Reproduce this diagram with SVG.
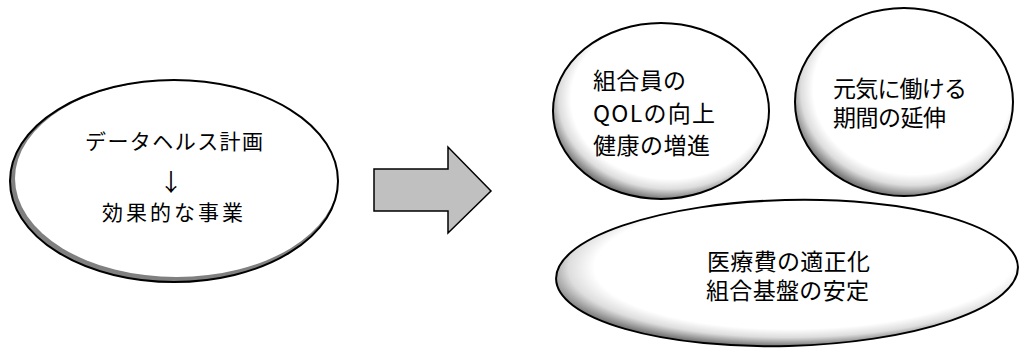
<svg xmlns="http://www.w3.org/2000/svg" width="1020" height="349" viewBox="0 0 1020 349">
  <style>
    .t { font-family: "Noto Sans CJK JP", "Noto Sans", sans-serif; fill: #000; }
    .edge { fill: none; stroke: #000; stroke-width: 2; }
  </style>
  <defs>
    <radialGradient id="soft" cx="0.54" cy="0.43" r="0.57">
      <stop offset="0" stop-color="#ffffff"/>
      <stop offset="0.8" stop-color="#ffffff"/>
      <stop offset="0.9" stop-color="#dddddd"/>
      <stop offset="1" stop-color="#7a7a7a"/>
    </radialGradient>
  </defs>
  <rect width="1020" height="349" fill="#ffffff"/>

  <g id="node-plan">
    <ellipse cx="174" cy="181" rx="164" ry="101" fill="#808080"/>
    <ellipse cx="176.5" cy="178.5" rx="161.5" ry="98.5" fill="#ffffff"/>
    <ellipse cx="174" cy="181" rx="164" ry="101" class="edge"/>
    <text class="t" x="85" y="149" font-size="21" textLength="178" lengthAdjust="spacing">データヘルス計画</text>
    <text x="171" y="191" font-size="24" text-anchor="middle" fill="#000" font-family="'Noto Sans CJK JP', sans-serif">↓</text>
    <text class="t" x="102" y="220" font-size="21" textLength="141" lengthAdjust="spacing">効果的な事業</text>
  </g>

  <g id="connectors">
    <polygon points="374,169 448,169 448,147 491,191 448,233 448,211 374,211" fill="#c0c0c0" stroke="#000" stroke-width="1.5"/>
  </g>

  <g id="node-qol">
    <ellipse cx="661" cy="111" rx="108" ry="88" class="edge" style="fill:url(#soft)"/>
    <text class="t" x="593" y="89" font-size="23" textLength="93" lengthAdjust="spacing">組合員の</text>
    <text class="t" x="593" y="122" font-size="23" textLength="122" lengthAdjust="spacing">QOLの向上</text>
    <text class="t" x="593" y="154" font-size="23" textLength="117" lengthAdjust="spacing">健康の増進</text>
  </g>

  <g id="node-work">
    <ellipse cx="904" cy="102" rx="109" ry="94" class="edge" style="fill:url(#soft)"/>
    <text class="t" x="833" y="97" font-size="23" textLength="134" lengthAdjust="spacing">元気に働ける</text>
    <text class="t" x="833" y="126" font-size="23" textLength="113" lengthAdjust="spacing">期間の延伸</text>
  </g>

  <g id="node-cost">
    <ellipse cx="787" cy="273" rx="231" ry="73" transform="rotate(-1.5 787 273)" class="edge" style="fill:url(#soft)"/>
    <text class="t" x="707" y="270" font-size="23" textLength="163" lengthAdjust="spacing">医療費の適正化</text>
    <text class="t" x="706" y="299" font-size="23" textLength="163" lengthAdjust="spacing">組合基盤の安定</text>
  </g>
</svg>
